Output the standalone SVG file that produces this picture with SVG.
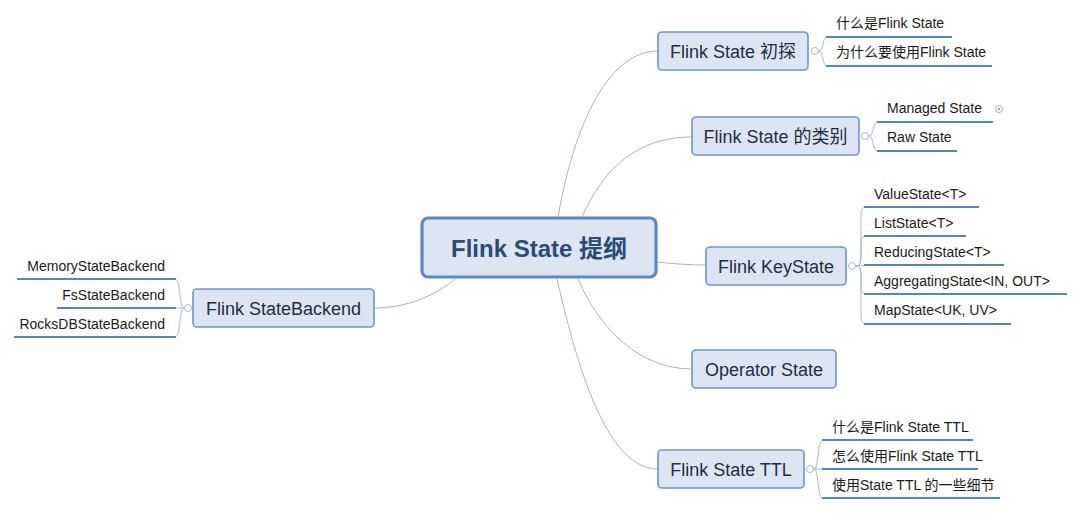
<svg xmlns="http://www.w3.org/2000/svg" width="1080" height="527" viewBox="0 0 1080 527">
<style>
.bg{fill:#ffffff}
.node rect{fill:#dce6f2;stroke:#6f95c9;stroke-width:1.6}
.node text{font-family:"Liberation Sans","Noto Sans CJK SC",sans-serif;font-size:18px;fill:#1f2d44;text-anchor:middle}
.root rect{fill:#dce6f2;stroke:#5a88c6;stroke-width:3.2}
.root text{font-family:"Liberation Sans","Noto Sans CJK SC",sans-serif;font-size:24px;font-weight:bold;fill:#2c4a78;text-anchor:middle}
.leaf text{font-family:"Liberation Sans","Noto Sans CJK SC",sans-serif;font-size:14px;fill:#1a1a1a}
.leaf line{stroke:#5585c2;stroke-width:2.2}
.conn path{fill:none;stroke:#a7b3c4;stroke-width:1}
.br path{fill:none;stroke:#a7b8cf;stroke-width:1}
.knob{fill:#ffffff;stroke:#a7b8cf;stroke-width:1}
</style>
<rect class="bg" x="0" y="0" width="1080" height="527"/>

<g id="connectors" class="conn">
<path d="M558,217 C575,120 610,51 658,51"/>
<path d="M582,217 C605,165 640,137 692,137"/>
<path d="M657,262 C675,264 690,265 706,265"/>
<path d="M578,279 C600,330 640,369 692,369"/>
<path d="M557,279 C580,380 610,469 658,469"/>
<path d="M455,279 C430,300 400,308 374,308"/>
</g>

<g id="root" class="root">
<rect x="422" y="218" width="234" height="59" rx="6"/>
<text x="539" y="257">Flink State 提纲</text>
</g>

<g id="n-intro" class="node">
<rect x="658" y="32" width="150" height="38" rx="4"/>
<text x="733" y="57.5">Flink State 初探</text>
</g>
<g id="n-intro-br" class="br">
<path d="M819,51 C824,51 822,37 827,37"/>
<path d="M819,51 C824,51 822,66 827,66"/>
<circle class="knob" cx="815" cy="51" r="3.5"/>
</g>
<g id="l-intro-1" class="leaf"><text x="836" y="28">什么是Flink State</text><line x1="826" y1="37" x2="952" y2="37"/></g>
<g id="l-intro-2" class="leaf"><text x="836" y="57">为什么要使用Flink State</text><line x1="826" y1="66" x2="992" y2="66"/></g>

<g id="n-type" class="node">
<rect x="692" y="117" width="167" height="38" rx="4"/>
<text x="775.5" y="142.5">Flink State 的类别</text>
</g>
<g id="n-type-br" class="br">
<path d="M869,136 C874,136 872,122 878,122"/>
<path d="M869,136 C874,136 872,151 878,151"/>
<circle class="knob" cx="865" cy="136" r="3.5"/>
</g>
<g id="l-type-1" class="leaf"><text x="887" y="113">Managed State</text><line x1="877" y1="122" x2="993" y2="122"/>
<circle cx="999" cy="109" r="3.5" fill="#fff" stroke="#9a9a9a" stroke-width="0.8"/><circle cx="999" cy="109" r="1.2" fill="#9a9a9a"/></g>
<g id="l-type-2" class="leaf"><text x="887" y="142">Raw State</text><line x1="877" y1="151" x2="957" y2="151"/></g>

<g id="n-key" class="node">
<rect x="706" y="247" width="140" height="38" rx="4"/>
<text x="776" y="272.5">Flink KeyState</text>
</g>
<g id="n-key-br" class="br">
<path d="M856,266 C861,266 861,262 861,250 L861,216 C861,210 862,207 866,207"/>
<path d="M856,266 C861,266 861,262 861,250 L861,244 C861,239 862,236 866,236"/>
<path d="M856,266 L866,265"/>
<path d="M856,266 C861,266 861,270 861,280 L861,286 C861,291 862,294 866,294"/>
<path d="M856,266 C861,266 861,270 861,280 L861,314 C861,320 862,324 866,324"/>
<circle class="knob" cx="852" cy="266" r="3.5"/>
</g>
<g id="l-key-1" class="leaf"><text x="874" y="199">ValueState&lt;T&gt;</text><line x1="864" y1="207" x2="979" y2="207"/></g>
<g id="l-key-2" class="leaf"><text x="874" y="228">ListState&lt;T&gt;</text><line x1="864" y1="236" x2="966" y2="236"/></g>
<g id="l-key-3" class="leaf"><text x="874" y="257">ReducingState&lt;T&gt;</text><line x1="864" y1="265" x2="1004" y2="265"/></g>
<g id="l-key-4" class="leaf"><text x="874" y="286">AggregatingState&lt;IN, OUT&gt;</text><line x1="864" y1="294" x2="1067" y2="294"/></g>
<g id="l-key-5" class="leaf"><text x="874" y="315">MapState&lt;UK, UV&gt;</text><line x1="864" y1="324" x2="1011" y2="324"/></g>

<g id="n-operator" class="node">
<rect x="692" y="350" width="144" height="38" rx="4"/>
<text x="764" y="375.5">Operator State</text>
</g>

<g id="n-ttl" class="node">
<rect x="658" y="450" width="146" height="38" rx="4"/>
<text x="731" y="475.5">Flink State TTL</text>
</g>
<g id="n-ttl-br" class="br">
<path d="M814,469 C819,469 817,440 823,440"/>
<path d="M814,469 L823,469"/>
<path d="M814,469 C819,469 817,498 823,498"/>
<circle class="knob" cx="810" cy="469" r="3.5"/>
</g>
<g id="l-ttl-1" class="leaf"><text x="832" y="432">什么是Flink State TTL</text><line x1="822" y1="440" x2="973" y2="440"/></g>
<g id="l-ttl-2" class="leaf"><text x="832" y="461">怎么使用Flink State TTL</text><line x1="822" y1="469" x2="978" y2="469"/></g>
<g id="l-ttl-3" class="leaf"><text x="832" y="490">使用State TTL 的一些细节</text><line x1="822" y1="498" x2="1000" y2="498"/></g>

<g id="n-backend" class="node">
<rect x="193" y="289" width="181" height="38" rx="4"/>
<text x="283.5" y="314.5">Flink StateBackend</text>
</g>
<g id="n-backend-br" class="br">
<path d="M184,308 C179,308 181,279 175,279"/>
<path d="M184,308 L175,308"/>
<path d="M184,308 C179,308 181,337 175,337"/>
<circle class="knob" cx="188" cy="308" r="3.5"/>
</g>
<g id="l-be-1" class="leaf"><text x="165" y="271" text-anchor="end">MemoryStateBackend</text><line x1="17" y1="279" x2="176" y2="279"/></g>
<g id="l-be-2" class="leaf"><text x="165" y="300" text-anchor="end">FsStateBackend</text><line x1="57" y1="308" x2="176" y2="308"/></g>
<g id="l-be-3" class="leaf"><text x="165" y="329" text-anchor="end">RocksDBStateBackend</text><line x1="14" y1="337" x2="176" y2="337"/></g>
</svg>
